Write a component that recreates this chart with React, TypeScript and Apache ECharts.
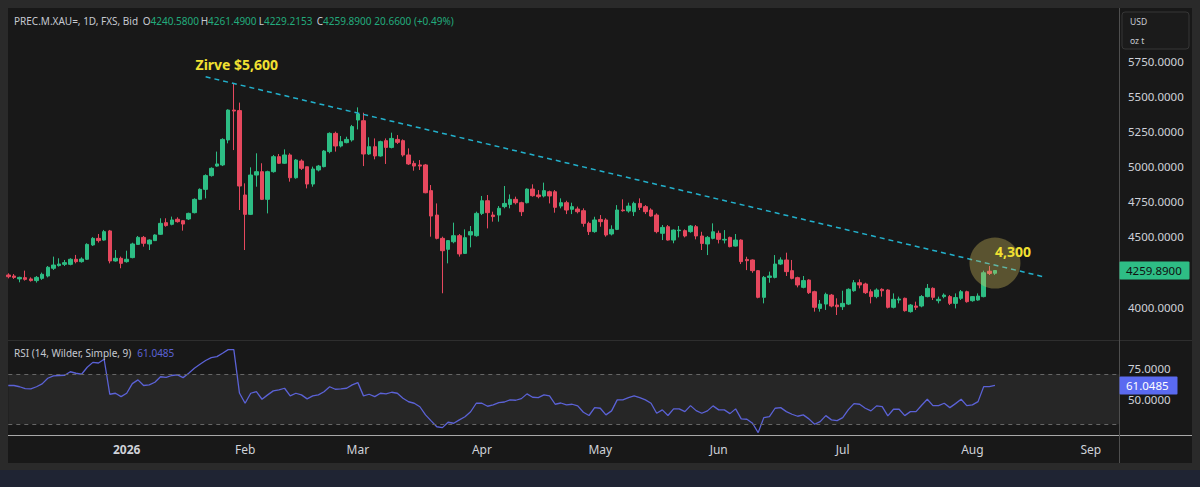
import React, { useEffect, useRef } from 'react';
import * as echarts from 'echarts';

// ---------- data ----------
const START_DATE = '2025-12-02';
const HOLIDAYS = ['2025-12-25', '2026-01-01', '2026-04-03'];
const SLOT_COUNT = 198; // trading days incl. empty future slots up to Sep 8
const MONTH_NAMES = ['Jan', 'Feb', 'Mar', 'Apr', 'May', 'Jun', 'Jul', 'Aug', 'Sep', 'Oct', 'Nov', 'Dec'];

const OPEN = [
  4228, 4221, 4200, 4209, 4200, 4188, 4204, 4221, 4276, 4295, 4304, 4304, 4340, 4323, 4340, 4442, 4489, 4477, 4542, 4328,
  4347, 4323, 4352, 4446, 4496, 4449, 4473, 4518, 4601, 4589, 4625, 4615, 4627, 4672, 4767, 4838, 4936, 5004, 5012, 5190,
  5403, 5399, 4798, 4660, 4940, 4964, 4767, 4964, 5071, 5024, 5083, 4921, 5040, 4999, 4876, 4976, 5000, 5107, 5237, 5147,
  5171, 5190, 5332, 5327, 5090, 5142, 5076, 5185, 5137, 5194, 5185, 5083, 5023, 5012, 5012, 4829, 4655, 4489, 4411, 4465,
  4508, 4382, 4513, 4508, 4667, 4757, 4655, 4655, 4715, 4731, 4767, 4743, 4743, 4840, 4798, 4791, 4821, 4821, 4719, 4743,
  4696, 4698, 4686, 4596, 4537, 4624, 4620, 4520, 4553, 4691, 4684, 4679, 4738, 4715, 4691, 4655, 4525, 4572, 4477, 4544,
  4544, 4537, 4572, 4506, 4449, 4489, 4525, 4477, 4496, 4434, 4477, 4339, 4335, 4259, 4069, 4211, 4211, 4306, 4335, 4259,
  4209, 4140, 4192, 4109, 3990, 4021, 4085, 4014, 4002, 4021, 4116, 4173, 4164, 4109, 4074, 4126, 4121, 3998, 4050, 4062,
  3967, 4007, 4007, 4074, 4133, 4045, 4074, 4074, 4026, 4062, 4109, 4045, 4050, 4074, 4255, 4240.58,
];
const CLOSE = [
  4216, 4211, 4211, 4197, 4188, 4211, 4233, 4283, 4299, 4306, 4316, 4340, 4323, 4342, 4446, 4489, 4473, 4537, 4328, 4347,
  4311, 4340, 4449, 4496, 4454, 4477, 4513, 4596, 4580, 4620, 4608, 4591, 4667, 4767, 4838, 4936, 4988, 5019, 5194, 5403,
  5396, 4862, 4660, 4940, 4964, 4767, 4964, 5071, 5024, 5083, 4921, 5047, 4988, 4876, 4983, 5004, 5111, 5237, 5147, 5178,
  5194, 5285, 5375, 5090, 5142, 5076, 5178, 5137, 5201, 5173, 5083, 5019, 5004, 5004, 4814, 4648, 4489, 4401, 4473, 4508,
  4378, 4494, 4537, 4667, 4757, 4672, 4644, 4703, 4738, 4767, 4743, 4679, 4840, 4793, 4786, 4829, 4791, 4710, 4743, 4691,
  4715, 4679, 4596, 4537, 4620, 4608, 4513, 4553, 4691, 4686, 4719, 4738, 4710, 4679, 4648, 4537, 4567, 4477, 4548, 4548,
  4506, 4577, 4506, 4453, 4496, 4536, 4482, 4482, 4430, 4477, 4323, 4330, 4259, 4069, 4211, 4221, 4306, 4335, 4252, 4204,
  4157, 4188, 4102, 3998, 4021, 4090, 4007, 4002, 4026, 4126, 4173, 4157, 4102, 4074, 4121, 4116, 3998, 4055, 4057, 3974,
  4014, 3998, 4074, 4133, 4069, 4055, 4085, 4026, 4067, 4109, 4038, 4074, 4078, 4244, 4239.23, 4259.89,
];
const HIGH = [
  4240, 4235, 4216, 4259, 4211, 4221, 4245, 4292, 4359, 4347, 4335, 4347, 4371, 4354, 4454, 4498, 4520, 4549, 4549, 4406,
  4359, 4401, 4458, 4506, 4506, 4482, 4518, 4632, 4632, 4644, 4639, 4620, 4672, 4774, 4845, 4945, 4995, 5107, 5202, 5408,
  5593, 5456, 4881, 4995, 5095, 5024, 4971, 5083, 5090, 5123, 5095, 5054, 5052, 5000, 5000, 5012, 5118, 5244, 5249, 5218,
  5213, 5297, 5422, 5384, 5209, 5201, 5185, 5201, 5242, 5225, 5194, 5130, 5042, 5047, 5019, 4869, 4738, 4501, 4477, 4601,
  4520, 4553, 4577, 4679, 4791, 4798, 4679, 4719, 4862, 4802, 4786, 4750, 4845, 4874, 4833, 4886, 4829, 4833, 4774, 4757,
  4743, 4715, 4703, 4608, 4643, 4655, 4632, 4582, 4726, 4767, 4743, 4750, 4774, 4726, 4703, 4667, 4584, 4584, 4553, 4577,
  4553, 4584, 4584, 4536, 4506, 4596, 4544, 4548, 4501, 4520, 4482, 4358, 4339, 4263, 4221, 4252, 4370, 4354, 4387, 4335,
  4216, 4221, 4197, 4116, 4050, 4102, 4093, 4062, 4116, 4133, 4192, 4197, 4173, 4126, 4133, 4133, 4126, 4097, 4074, 4067,
  4021, 4038, 4085, 4164, 4140, 4074, 4097, 4085, 4097, 4121, 4116, 4078, 4097, 4259, 4292, 4261.49,
];
const LOW = [
  4204, 4200, 4176, 4188, 4181, 4174, 4193, 4211, 4264, 4288, 4292, 4297, 4311, 4316, 4335, 4435, 4459, 4473, 4311, 4323,
  4276, 4316, 4347, 4444, 4430, 4406, 4470, 4513, 4572, 4582, 4601, 4544, 4620, 4667, 4762, 4774, 4929, 4999, 5004, 5166,
  5118, 4691, 4406, 4655, 4857, 4762, 4667, 4957, 5019, 5019, 4893, 4914, 4976, 4845, 4857, 4966, 4995, 5095, 5107, 5137,
  5166, 5178, 5265, 5004, 5083, 5052, 5071, 5019, 5130, 5161, 5071, 5012, 4971, 4976, 4810, 4501, 4482, 4098, 4311, 4454,
  4359, 4378, 4425, 4501, 4655, 4560, 4608, 4608, 4703, 4703, 4731, 4648, 4738, 4786, 4774, 4781, 4738, 4672, 4703, 4662,
  4662, 4667, 4572, 4513, 4529, 4572, 4501, 4510, 4548, 4679, 4672, 4648, 4691, 4662, 4643, 4525, 4477, 4473, 4454, 4496,
  4496, 4529, 4482, 4406, 4370, 4482, 4453, 4453, 4425, 4430, 4306, 4263, 4244, 4062, 4026, 4173, 4204, 4299, 4221, 4197,
  4140, 4133, 4093, 3967, 3967, 3979, 3998, 3943, 3979, 4014, 4109, 4133, 4093, 4026, 4062, 4074, 3990, 3990, 4026, 3967,
  3960, 3979, 3998, 4069, 4050, 4026, 4062, 4014, 3990, 4050, 4031, 4038, 4045, 4069, 4228, 4229.2153,
];
const RSI = [
  61, 61, 60, 58.5, 58.3, 60, 62.3, 66.8, 68.7, 69, 69.2, 72, 70.8, 70, 75.6, 79.5, 79, 82, 54, 54.8,
  52.1, 54.8, 62.5, 65.5, 61, 61.5, 63.6, 68, 67.5, 69, 69.5, 67.3, 70.8, 74.8, 78, 81, 83.3, 84.1, 86.8, 89.7,
  89.7, 55, 46.8, 54.8, 56.1, 50, 53.5, 56.7, 57.5, 58.8, 52.7, 54.8, 53.5, 50.3, 52.7, 53.5, 56, 60, 58, 58.3,
  58.8, 61.5, 63.3, 52.7, 54, 52.1, 54.8, 54.3, 55.6, 54.8, 50.8, 48, 46.8, 44, 37.5, 32.7, 28, 27.3, 31.6, 30.8,
  33.5, 36, 40, 46.8, 46.8, 44.4, 45.5, 47.3, 47.8, 49.5, 49.2, 50.5, 54.3, 51.6, 51.3, 53.5, 52.7, 46, 47, 45.5,
  46, 44.7, 39.6, 37, 43.3, 42.8, 37.5, 40.7, 49.5, 49.5, 51.3, 52.7, 51.3, 49.5, 46.8, 38.8, 41.5, 37, 42.3, 42.3,
  40.1, 44.9, 40.9, 38.8, 40.7, 44.7, 41.5, 41.5, 38.5, 42.3, 34.3, 34, 30.8, 23.3, 35.3, 36.1, 42.8, 43.3, 40.1, 38,
  36.4, 37.5, 34.3, 30, 32.1, 36.9, 33.5, 32.9, 35.3, 41.7, 46.5, 46, 42.8, 40.7, 44.7, 44.1, 36.7, 42, 42, 36.9,
  40.1, 40.1, 45.2, 50, 44.9, 44.9, 46.8, 43.3, 46.5, 50, 44.9, 45.5, 48.1, 60.1, 60.1, 61.0485,
];

const PRICE_TICKS = [4000, 4500, 4750, 5000, 5250, 5500, 5750];
const RSI_TICKS = [50, 75];
const RSI_BANDS = [30, 70];
const TREND_POINTS = [
  { index: 35, value: 5640 },
  { index: 184, value: 4212 },
];
const PEAK_LABEL = 'Zirve $5,600';
const TARGET = { index: 175, value: 4313, label: '4,300' };
const SYMBOL_TITLE = 'PREC.M.XAU=, 1D, FXS, Bid';
const RSI_TITLE = 'RSI (14, Wilder, Simple, 9)';

// ---------- helpers ----------
function buildDates(): string[] {
  const out: string[] = [];
  const d = new Date(START_DATE + 'T00:00:00Z');
  while (out.length < SLOT_COUNT) {
    const day = d.getUTCDay();
    const s = d.toISOString().slice(0, 10);
    if (day !== 0 && day !== 6 && HOLIDAYS.indexOf(s) < 0) out.push(s);
    d.setUTCDate(d.getUTCDate() + 1);
  }
  return out;
}

const FONT = '"Noto Sans", "DejaVu Sans", sans-serif';
const UP = '#2dbd84';
const DOWN = '#e6485e';
const RSI_COLOR = '#5b62d6';
const YELLOW = '#f1e032';
const TEXT = '#cfd2d9';
const GREEN_TEXT = '#22ab7c';

export default function App() {
  const ref = useRef<HTMLDivElement>(null);

  useEffect(() => {
    if (!ref.current) return;
    const chart = echarts.init(ref.current, undefined, { renderer: 'svg' });
    const dates = buildDates();
    const monthStart = new Set<number>();
    for (let i = 1; i < dates.length; i++) {
      if (dates[i].slice(5, 7) !== dates[i - 1].slice(5, 7)) monthStart.add(i);
    }
    const n = CLOSE.length;
    const candles = OPEN.map((o, i) => [o, CLOSE[i], LOW[i], HIGH[i]]);
    let peak = 0;
    HIGH.forEach((h, i) => { if (h > HIGH[peak]) peak = i; });
    const last = n - 1;
    const change = CLOSE[last] - CLOSE[last - 1];
    const pct = (change / CLOSE[last - 1]) * 100;
    const lastRsi = RSI[RSI.length - 1];

    const hdrRich = {
      l: { fill: '#c6c9d1', fontSize: 10, fontFamily: FONT },
      v: { fill: GREEN_TEXT, fontSize: 10, fontFamily: FONT },
    };
    const hdrItems = [
      ['O', OPEN[last].toFixed(4)],
      ['H', HIGH[last].toFixed(4)],
      ['L', LOW[last].toFixed(4)],
      ['C', CLOSE[last].toFixed(4)],
    ];
    const headerTexts: any[] = hdrItems.map((it, k) => ({
      type: 'text',
      x: 142.7 + k * 58,
      y: 21,
      z: 20,
      style: { text: `{l|${it[0]}}{v|${it[1]}}`, rich: hdrRich, verticalAlign: 'middle', fontFamily: FONT, fontSize: 10 },
    }));
    headerTexts.push({
      type: 'text',
      x: 374.3,
      y: 21,
      z: 20,
      style: {
        text: `${change.toFixed(4)} (${pct >= 0 ? '+' : ''}${pct.toFixed(2)}%)`,
        fill: GREEN_TEXT, fontSize: 10, fontFamily: FONT, verticalAlign: 'middle',
      },
    });

    const baseGraphics: any[] = [
      { type: 'rect', z: -10, silent: true, shape: { x: 8, y: 8, width: 1184, height: 455 }, style: { fill: '#181818' } },
      { type: 'rect', z: -10, silent: true, shape: { x: 0, y: 470, width: 1200, height: 17 }, style: { fill: '#1f2433' } },
      { type: 'line', z: 5, silent: true, shape: { x1: 8, y1: 340.5, x2: 1192, y2: 340.5 }, style: { stroke: '#2e2e2e', lineWidth: 1 } },
      { type: 'line', z: 5, silent: true, shape: { x1: 8, y1: 435.5, x2: 1192, y2: 435.5 }, style: { stroke: '#a8a8a8', lineWidth: 1 } },
      { type: 'line', z: 5, silent: true, shape: { x1: 1119.5, y1: 8, x2: 1119.5, y2: 463 }, style: { stroke: '#4e4e4e', lineWidth: 1 } },
      { type: 'rect', z: 5, silent: true, shape: { x: 1122, y: 12, width: 67, height: 37, r: 3 }, style: { fill: '#1b1b1b', stroke: '#363636', lineWidth: 1 } },
      { type: 'text', z: 6, x: 1130, y: 21, style: { text: 'USD', fill: '#c8cbd2', fontSize: 8.5, fontFamily: FONT, verticalAlign: 'middle' } },
      { type: 'text', z: 6, x: 1130, y: 40, style: { text: 'oz t', fill: '#c8cbd2', fontSize: 8.5, fontFamily: FONT, verticalAlign: 'middle' } },
      { type: 'text', z: 20, x: 14, y: 21, style: { text: SYMBOL_TITLE, fill: '#c6c9d1', fontSize: 10, fontFamily: FONT, verticalAlign: 'middle' } },
      ...headerTexts,
      { type: 'text', z: 20, x: 14, y: 353, style: { text: RSI_TITLE, fill: '#c6c9d1', fontSize: 10, fontFamily: FONT, verticalAlign: 'middle' } },
      { type: 'text', z: 20, x: 137.3, y: 353, style: { text: lastRsi.toFixed(4), fill: RSI_COLOR, fontSize: 10, fontFamily: FONT, verticalAlign: 'middle' } },
    ];

    const option: any = {
      animation: false,
      backgroundColor: '#2a2a2a',
      textStyle: { fontFamily: FONT },
      grid: [
        { left: 8.3, width: 1110.7, top: 8, height: 332 },
        { left: 8.3, width: 1110.7, top: 340, height: 95 },
      ],
      xAxis: [
        {
          type: 'category', gridIndex: 0, data: dates, boundaryGap: false,
          axisLine: { show: false }, axisTick: { show: false }, axisLabel: { show: false }, splitLine: { show: false },
        },
        {
          type: 'category', gridIndex: 1, data: dates, boundaryGap: false,
          axisLine: { show: false }, axisTick: { show: false }, splitLine: { show: false },
          axisLabel: {
            interval: (i: number) => monthStart.has(i),
            formatter: (v: string) => {
              const m = parseInt(v.slice(5, 7), 10) - 1;
              return m === 0 ? `{y|${v.slice(0, 4)}}` : MONTH_NAMES[m];
            },
            color: TEXT, fontSize: 12, margin: 8, fontFamily: FONT,
            rich: { y: { fontWeight: 'bold', fontSize: 12, color: TEXT, fontFamily: FONT } },
          },
        },
      ],
      yAxis: [
        {
          type: 'value', gridIndex: 0, position: 'right', min: 3765, max: 6130, scale: true,
          splitLine: { show: false }, axisLine: { show: false }, axisTick: { show: false },
          axisLabel: {
            customValues: PRICE_TICKS, formatter: (v: number) => v.toFixed(4),
            color: TEXT, fontSize: 11.5, margin: 9, fontFamily: FONT,
          },
        },
        {
          type: 'value', gridIndex: 1, position: 'right', min: 21.4, max: 97.4,
          splitLine: { show: false }, axisLine: { show: false }, axisTick: { show: false },
          axisLabel: {
            customValues: RSI_TICKS, formatter: (v: number) => v.toFixed(4),
            color: TEXT, fontSize: 11.5, margin: 9, fontFamily: FONT,
          },
        },
      ],
      series: [
        {
          type: 'candlestick', xAxisIndex: 0, yAxisIndex: 0, data: candles, barWidth: 4,
          itemStyle: { color: UP, color0: DOWN, borderColor: UP, borderColor0: DOWN, borderWidth: 1 },
          markPoint: {
            silent: true, animation: false,
            data: [
              {
                coord: [dates[peak], HIGH[peak]], symbol: 'circle', symbolSize: 1,
                itemStyle: { color: 'rgba(0,0,0,0)' },
                label: {
                  show: true, formatter: PEAK_LABEL, position: 'inside', offset: [3, -19],
                  color: YELLOW, fontSize: 14, fontWeight: 'bold', fontFamily: FONT,
                },
              },
              {
                coord: [dates[TARGET.index], TARGET.value], symbol: 'circle', symbolSize: 51,
                itemStyle: { color: 'rgba(215,195,95,0.35)' },
                label: {
                  show: true, formatter: TARGET.label, position: 'inside', offset: [18, -12],
                  color: YELLOW, fontSize: 14, fontWeight: 'bold', fontFamily: FONT,
                },
              },
            ],
          },
        },
        {
          type: 'line', xAxisIndex: 0, yAxisIndex: 0, symbol: 'none', silent: true,
          data: TREND_POINTS.map((p) => [dates[p.index], p.value]),
          lineStyle: { color: '#22b0cb', width: 1.5, type: [5, 4] },
          z: 3,
        },
        {
          type: 'line', xAxisIndex: 1, yAxisIndex: 1, symbol: 'none', silent: true,
          data: RSI,
          lineStyle: { color: RSI_COLOR, width: 1.3 },
          markArea: {
            silent: true,
            itemStyle: { color: '#262626' },
            data: [[{ yAxis: RSI_BANDS[0] }, { yAxis: RSI_BANDS[1] }]],
          },
          markLine: {
            silent: true, symbol: 'none', animation: false,
            label: { show: false },
            data: [
              { yAxis: RSI_BANDS[1], lineStyle: { color: '#666666', type: [4, 4], width: 1 } },
              { yAxis: RSI_BANDS[0], lineStyle: { color: '#666666', type: [4, 4], width: 1 } },
            ],
          },
        },
      ],
      graphic: baseGraphics,
    };
    chart.setOption(option);

    // last-value tags on the price axis, positioned through the axes
    const yPrice = chart.convertToPixel({ yAxisIndex: 0 }, CLOSE[last]) as number;
    const yRsi = chart.convertToPixel({ yAxisIndex: 1 }, lastRsi) as number;
    const tags: any[] = [
      { type: 'rect', z: 30, silent: true, shape: { x: 1119.5, y: yPrice - 9, width: 70, height: 18, r: 1 }, style: { fill: '#2ebd85' } },
      { type: 'text', z: 31, silent: true, x: 1126, y: yPrice, style: { text: CLOSE[last].toFixed(4), fill: '#101010', fontSize: 11.5, fontFamily: FONT, verticalAlign: 'middle' } },
      { type: 'rect', z: 30, silent: true, shape: { x: 1119.5, y: yRsi - 9, width: 58, height: 18, r: 1 }, style: { fill: '#5a6af0' } },
      { type: 'text', z: 31, silent: true, x: 1126, y: yRsi, style: { text: lastRsi.toFixed(4), fill: '#ffffff', fontSize: 11.5, fontFamily: FONT, verticalAlign: 'middle' } },
    ];
    chart.setOption({ graphic: [...baseGraphics, ...tags] });
    return () => chart.dispose();
  }, []);

  return (
    <div
      ref={ref}
      style={{ position: 'absolute', left: 0, top: 0, width: 1200, height: 487 }}
    />
  );
}
